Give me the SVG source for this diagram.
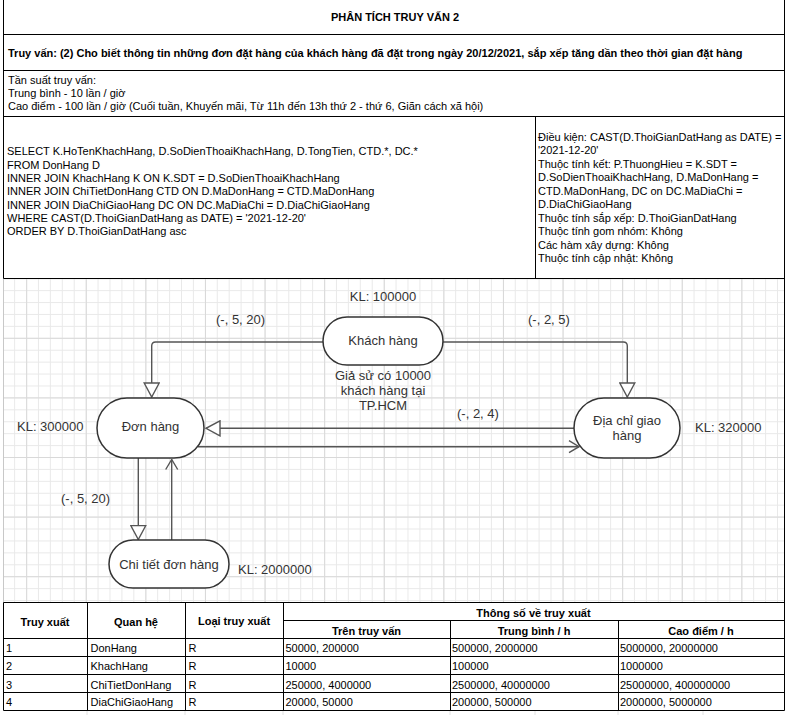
<svg xmlns="http://www.w3.org/2000/svg" width="788" height="715" viewBox="0 0 788 715">
<defs>
<style>
.t{font-family:"Liberation Sans",Arial,sans-serif;font-size:11px;fill:#000}
.b{font-weight:bold}
.c{text-anchor:middle}
.d{font-family:"Liberation Sans",Arial,sans-serif;font-size:13px;fill:#333}
.bl{stroke:#000;stroke-width:1;fill:none}
.node{fill:#fff;stroke:#333;stroke-width:1.5}
.con{fill:none;stroke:#555;stroke-width:1.4}
</style>
<pattern id="gMinor" patternUnits="userSpaceOnUse" x="2.2" y="278.2" width="11.92" height="11.92">
<path d="M0.5,0V11.92M0,0.5H11.92" stroke="#e9e9e9" stroke-width="1" fill="none"/>
</pattern>
<pattern id="gMajor" patternUnits="userSpaceOnUse" x="26.2" y="278.2" width="59.6" height="59.6">
<path d="M0.5,0V59.6M0,0.5H59.6" stroke="#d9d9d9" stroke-width="1" fill="none"/>
</pattern>
<marker id="tri" markerUnits="userSpaceOnUse" viewBox="-1 -1 16 17" markerWidth="16" markerHeight="17" refX="14" refY="7.5" orient="auto">
<path d="M0,0L14,7.5L0,15Z" fill="#fff" stroke="#555" stroke-width="1.4"/>
</marker>
<marker id="open" markerUnits="userSpaceOnUse" viewBox="-1 -1 12 14" markerWidth="12" markerHeight="14" refX="10" refY="6" orient="auto">
<path d="M0,0L10,6L0,12" fill="none" stroke="#555" stroke-width="1.4"/>
</marker>
</defs>
<rect x="0" y="0" width="788" height="715" fill="#fff"/>

<!-- header cells -->
<g id="header">
<text class="t b c" x="395" y="21">PHÂN TÍCH TRUY VẤN 2</text>
<text class="t b" x="8" y="56.5">Truy vấn: (2) Cho biết thông tin những đơn đặt hàng của khách hàng đã đặt trong ngày 20/12/2021, sắp xếp tăng dần theo thời gian đặt hàng</text>
<text class="t" x="8" y="83.5">Tần suất truy vấn:</text>
<text class="t" x="8" y="96.5">Trung bình - 10 lần / giờ</text>
<text class="t" x="8" y="109.5">Cao điểm - 100 lần / giờ (Cuối tuần, Khuyến mãi, Từ 11h đến 13h thứ 2 - thứ 6, Giãn cách xã hội)</text>
</g>
<g id="sql">
<text class="t" x="7" y="155.3">SELECT K.HoTenKhachHang, D.SoDienThoaiKhachHang, D.TongTien, CTD.*, DC.*</text>
<text class="t" x="7" y="168.6">FROM DonHang D</text>
<text class="t" x="7" y="181.9">INNER JOIN KhachHang K ON K.SDT = D.SoDienThoaiKhachHang</text>
<text class="t" x="7" y="195.2">INNER JOIN ChiTietDonHang CTD ON D.MaDonHang = CTD.MaDonHang</text>
<text class="t" x="7" y="208.5">INNER JOIN DiaChiGiaoHang DC ON DC.MaDiaChi = D.DiaChiGiaoHang</text>
<text class="t" x="7" y="221.8">WHERE CAST(D.ThoiGianDatHang as DATE) = '2021-12-20'</text>
<text class="t" x="7" y="235.1">ORDER BY D.ThoiGianDatHang asc</text>
</g>
<g id="conditions">
<text class="t" x="538" y="140.5">Điều kiện: CAST(D.ThoiGianDatHang as DATE) =</text>
<text class="t" x="538" y="154">'2021-12-20'</text>
<text class="t" x="538" y="167.5">Thuộc tính kết: P.ThuongHieu = K.SDT =</text>
<text class="t" x="538" y="181">D.SoDienThoaiKhachHang, D.MaDonHang =</text>
<text class="t" x="538" y="194.5">CTD.MaDonHang, DC on DC.MaDiaChi =</text>
<text class="t" x="538" y="208">D.DiaChiGiaoHang</text>
<text class="t" x="538" y="221.5">Thuộc tính sắp xếp: D.ThoiGianDatHang</text>
<text class="t" x="538" y="235">Thuộc tính gom nhóm: Không</text>
<text class="t" x="538" y="248.5">Các hàm xây dựng: Không</text>
<text class="t" x="538" y="262">Thuộc tính cập nhật: Không</text>
</g>

<!-- diagram background grid -->
<rect x="4" y="279" width="780" height="323" fill="url(#gMinor)"/>
<rect x="4" y="279" width="780" height="323" fill="url(#gMajor)"/>

<g id="connectors">
<path class="con" d="M323,342H155.7Q151.7,342 151.7,346V397" marker-end="url(#tri)"/>
<path class="con" d="M443,342H623.3Q627.3,342 627.3,346V397" marker-end="url(#tri)"/>
<path class="con" d="M574,428.3H206" marker-end="url(#tri)"/>
<path class="con" d="M198,446.7H579" marker-end="url(#open)"/>
<path class="con" d="M138.3,458V539.5" marker-end="url(#tri)"/>
<path class="con" d="M171.7,540V459.5" marker-end="url(#open)"/>
<text class="d" x="216" y="324">(-, 5, 20)</text>
<text class="d" x="528" y="324">(-, 2, 5)</text>
<text class="d" x="457" y="418">(-, 2, 4)</text>
<text class="d" x="61" y="503">(-, 5, 20)</text>
</g>

<g id="khachhang">
<rect class="node" x="323" y="317" width="120" height="48" rx="24"/>
<text class="d c" x="383" y="345">Khách hàng</text>
<text class="d c" x="383" y="300.5">KL: 100000</text>
<text class="d c" x="383" y="380">Giả sử có 10000</text>
<text class="d c" x="383" y="395">khách hàng tại</text>
<text class="d c" x="383" y="410">TP.HCM</text>
</g>
<g id="donhang">
<rect class="node" x="97" y="398" width="107" height="60" rx="30"/>
<text class="d c" x="150.5" y="431">Đơn hàng</text>
<text class="d" x="17" y="431">KL: 300000</text>
</g>
<g id="diachigiaohang">
<rect class="node" x="574" y="398" width="106" height="60" rx="30"/>
<text class="d c" x="627" y="424.5">Địa chỉ giao</text>
<text class="d c" x="627" y="439.5">hàng</text>
<text class="d" x="695" y="431.5">KL: 320000</text>
</g>
<g id="chitietdonhang">
<rect class="node" x="109" y="540" width="120" height="48" rx="24"/>
<text class="d c" x="169" y="568.5">Chi tiết đơn hàng</text>
<text class="d" x="238" y="573.5">KL: 2000000</text>
</g>

<!-- table -->
<g id="table">
<text class="t b c" x="45" y="625.5">Truy xuất</text>
<text class="t b c" x="136" y="625.5">Quan hệ</text>
<text class="t b c" x="234" y="625">Loại truy xuất</text>
<text class="t b c" x="533.5" y="617">Thông số về truy xuất</text>
<text class="t b c" x="366.5" y="635">Trên truy vấn</text>
<text class="t b c" x="534" y="635">Trung bình / h</text>
<text class="t b c" x="701" y="635">Cao điểm / h</text>

<text class="t" x="6" y="652">1</text>
<text class="t" x="90.5" y="652">DonHang</text>
<text class="t" x="188.5" y="652">R</text>
<text class="t" x="285.5" y="652">50000, 200000</text>
<text class="t" x="452" y="652">500000, 2000000</text>
<text class="t" x="620" y="652">5000000, 20000000</text>

<text class="t" x="6" y="670.3">2</text>
<text class="t" x="90.5" y="670.3">KhachHang</text>
<text class="t" x="188.5" y="670.3">R</text>
<text class="t" x="285.5" y="670.3">10000</text>
<text class="t" x="452" y="670.3">100000</text>
<text class="t" x="620" y="670.3">1000000</text>

<text class="t" x="6" y="688.6">3</text>
<text class="t" x="90.5" y="688.6">ChiTietDonHang</text>
<text class="t" x="188.5" y="688.6">R</text>
<text class="t" x="285.5" y="688.6">250000, 4000000</text>
<text class="t" x="452" y="688.6">2500000, 40000000</text>
<text class="t" x="620" y="688.6">25000000, 400000000</text>

<text class="t" x="6" y="706">4</text>
<text class="t" x="90.5" y="706">DiaChiGiaoHang</text>
<text class="t" x="188.5" y="706">R</text>
<text class="t" x="285.5" y="706">20000, 50000</text>
<text class="t" x="452" y="706">200000, 500000</text>
<text class="t" x="620" y="706">2000000, 5000000</text>
</g>

<g id="borders">
<path d="M87,711V715M185,711V715M283,711V715M450,711V715M535,711V715M618,711V715M703,711V715" stroke="#e2e2e2" stroke-width="1"/>
<path d="M3.5,278.5V602.5" stroke="#c8c8c8" stroke-width="1"/>
<path class="bl" d="M3.5,0V278.5M3.5,602.5V710.5M784.5,0V710.5"/>
<path class="bl" d="M3.5,34.5H784.5M3.5,70.5H784.5M3.5,116.5H784.5M3.5,278.5H784.5M3.5,602.5H784.5"/>
<path class="bl" d="M535.5,116.5V278.5"/>
<path class="bl" d="M283.5,620.5H784.5M3.5,638.5H784.5M3.5,656.5H784.5M3.5,674.5H784.5M3.5,692.5H784.5M3.5,710.5H784.5"/>
<path class="bl" d="M87.5,602.5V710.5M185.5,602.5V710.5M283.5,602.5V710.5M450.5,620.5V710.5M618.5,620.5V710.5"/>
</g>
</svg>
